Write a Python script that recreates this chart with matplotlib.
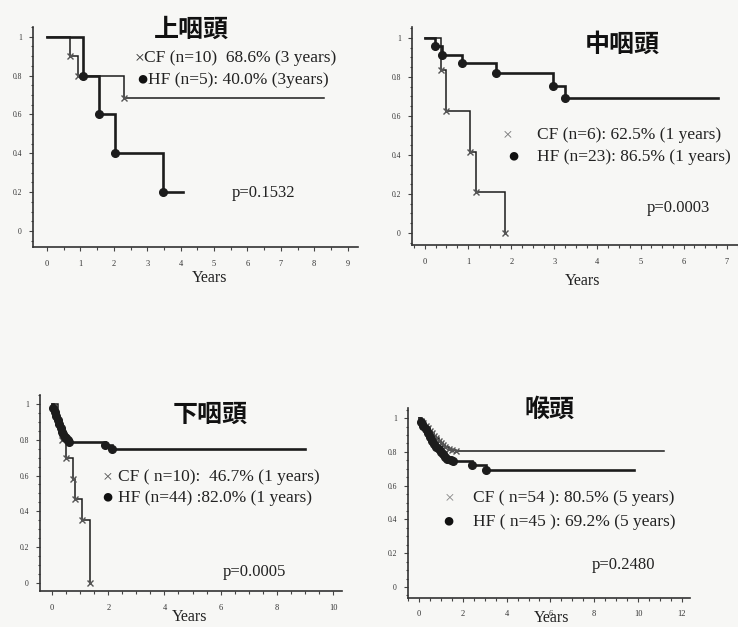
import matplotlib
matplotlib.use("Agg")
import matplotlib.pyplot as plt
from matplotlib.ticker import MultipleLocator

# Kaplan-Meier curves: time in years, survival.
# CF = conventional fractionation, HF = hyperfractionation.

# 上咽頭
naso_cf_t = [0, 0.69, 0.93, 2.3, 8.3]
naso_cf_s = [1, 0.9, 0.8, 0.686, 0.686]
naso_hf_t = [0, 1.08, 1.57, 2.03, 3.48, 4.07]
naso_hf_s = [1, 0.8, 0.6, 0.4, 0.2, 0.2]

# 中咽頭
oro_cf_t = [0, 0.37, 0.49, 1.04, 1.18, 1.86]
oro_cf_s = [1, 0.833, 0.625, 0.417, 0.208, 0]
oro_hf_t = [0, 0.23, 0.39, 0.85, 1.65, 2.96, 3.25, 6.8]
oro_hf_s = [1, 0.957, 0.913, 0.87, 0.82, 0.752, 0.69, 0.69]

# 下咽頭
hypo_cf_t = [0, 0.2, 0.35, 0.5, 0.76, 0.8, 1.06, 1.35]
hypo_cf_s = [1, 0.9, 0.8, 0.7, 0.583, 0.467, 0.35, 0]
hypo_hf_t = [0, 0.05, 0.1, 0.15, 0.2, 0.25, 0.3, 0.35, 0.4, 0.45, 0.5, 0.55,
             0.6, 1.9, 2.15, 9.0]
hypo_hf_s = [1, 0.977, 0.955, 0.932, 0.91, 0.886, 0.864, 0.841, 0.83, 0.818,
             0.81, 0.8, 0.79, 0.77, 0.75, 0.75]

# 喉頭
lar_cf_t = [0, 0.1, 0.2, 0.3, 0.4, 0.5, 0.6, 0.7, 0.8, 0.9, 1.0, 1.1, 1.2,
            1.35, 1.5, 1.7, 11.2]
lar_cf_s = [1, 0.985, 0.97, 0.955, 0.94, 0.925, 0.91, 0.895, 0.88, 0.865,
            0.85, 0.84, 0.83, 0.82, 0.812, 0.805, 0.805]
lar_hf_t = [0, 0.1, 0.2, 0.3, 0.4, 0.5, 0.6, 0.7, 0.8, 0.9, 1.0, 1.1, 1.2,
            1.3, 1.45, 1.55, 2.4, 3.05, 9.8]
lar_hf_s = [1, 0.978, 0.956, 0.933, 0.911, 0.889, 0.867, 0.845, 0.83, 0.815,
            0.8, 0.785, 0.77, 0.76, 0.75, 0.745, 0.72, 0.692, 0.692]

titles = ["上咽頭", "中咽頭", "下咽頭", "喉頭"]
p_values = ["p=0.1532", "p=0.0003", "p=0.0005", "p=0.2480"]
cf_labels = ["CF (n=10)  68.6% (3 years)", "CF (n=6): 62.5% (1 years)",
             "CF ( n=10):  46.7% (1 years)", "CF ( n=54 ): 80.5% (5 years)"]
hf_labels = ["HF (n=5): 40.0% (3years)", "HF (n=23): 86.5% (1 years)",
             "HF (n=44) :82.0% (1 years)", "HF ( n=45 ): 69.2% (5 years)"]
x_max_ticks = [9, 7, 10, 12]
x_steps = [1, 1, 2, 2]

W, H = 738, 627
INK = "#1c1c1c"
SERIF = ["Liberation Serif", "DejaVu Serif"]
CJK = ["Noto Sans CJK JP", "DejaVu Sans"]

fig = plt.figure(figsize=(W / 100, H / 100), dpi=100)
fig.patch.set_facecolor("#f7f7f5")


def px_axes(left, top, right, bottom):
    # Place an axes from pixel edges measured on the scan.
    return fig.add_axes([left / W, 1 - bottom / H, (right - left) / W,
                         (bottom - top) / H])


def px_text(x, y, s, **kw):
    return fig.text(x / W, 1 - y / H, s, **kw)


def km(ax, t, s, lw, marker, ms, mfc, mec):
    ax.step(t, s, where="post", color=INK, lw=lw, solid_joinstyle="miter",
            zorder=2)
    ev = [i for i in range(1, len(t)) if s[i] != s[i - 1]]
    ax.plot([t[i] for i in ev], [s[i] for i in ev], ls="none", marker=marker,
            ms=ms, mfc=mfc, mec=mec, mew=1.0, zorder=3)


# pixel boxes of the four axes: left, top, right, bottom
boxes = [(33, 27, 358, 247), (412, 27, 738, 245),
         (40, 395, 342, 591), (408, 408, 690, 598)]
xlims = [(-0.42, 9.31), (-0.3, 7.26), (-0.43, 10.32), (-0.5, 12.37)]
ylims = [(-0.082, 1.05), (-0.062, 1.056), (-0.045, 1.05), (-0.065, 1.06)]
x_minor = [0.5, 0.25, 0.5, 0.5]

curves = [(naso_cf_t, naso_cf_s, naso_hf_t, naso_hf_s),
          (oro_cf_t, oro_cf_s, oro_hf_t, oro_hf_s),
          (hypo_cf_t, hypo_cf_s, hypo_hf_t, hypo_hf_s),
          (lar_cf_t, lar_cf_s, lar_hf_t, lar_hf_s)]

axes = []
for i, box in enumerate(boxes):
    ax = px_axes(*box)
    ax.set_facecolor("none")
    cf_t, cf_s, hf_t, hf_s = curves[i]
    km(ax, cf_t, cf_s, 1.1, "x", 4, "none", "#555555")
    km(ax, hf_t, hf_s, 1.9, "o", 5.5, INK, INK)

    ax.set_xlim(*xlims[i])
    ax.set_ylim(*ylims[i])
    xt = list(range(0, x_max_ticks[i] + 1, x_steps[i]))
    ax.set_xticks(xt, labels=[str(v) for v in xt])
    ax.set_yticks([0, 0.2, 0.4, 0.6, 0.8, 1],
                  labels=["0", "0.2", "0.4", "0.6", "0.8", "1"])
    ax.xaxis.set_minor_locator(MultipleLocator(x_minor[i]))
    ax.yaxis.set_minor_locator(MultipleLocator(0.05))
    ax.tick_params(which="both", direction="out", color="#444444",
                   labelcolor="#333333", width=0.8)
    ax.tick_params(which="major", length=3)
    ax.tick_params(which="minor", length=1.8)
    ax.tick_params(axis="y", labelsize=5.5, pad=5)
    ax.tick_params(axis="x", labelsize=6, pad=6)
    for lab in ax.get_xticklabels() + ax.get_yticklabels():
        lab.set_family(SERIF)
    for side in ("top", "right"):
        ax.spines[side].set_visible(False)
    for side in ("left", "bottom"):
        ax.spines[side].set_color("#333333")
        ax.spines[side].set_linewidth(1.2)
    axes.append(ax)

# titles
title_pos = [(191, 30), (622, 45), (210, 415), (550, 410)]
for (x, y), s in zip(title_pos, titles):
    px_text(x, y, s, family=CJK, fontsize=18, fontweight="bold",
            ha="center", va="center", color="#111111")

# legends drawn as text, the marker glyph set apart from the label
leg_fs = 12.5
cf_mark = [(140, 58), (508, 135), (107, 477), (450, 498)]
hf_mark = [(142, 80), (513, 157), (107, 498), (448, 522)]
cf_text = [(144, 58), (537, 135), (118, 477), (473, 498)]
hf_text = [(148, 80), (537, 157), (118, 498), (473, 522)]
cf_mark_col = ["#333333", "#777777", "#555555", "#888888"]
for i in range(4):
    px_text(*cf_mark[i], "×", family=SERIF, fontsize=leg_fs, ha="center",
            va="center", color=cf_mark_col[i])
    px_text(*hf_mark[i], "●", family=SERIF, fontsize=leg_fs + 2,
            ha="center", va="center", color="#111111")
    px_text(*cf_text[i], cf_labels[i], family=SERIF, fontsize=leg_fs,
            va="center", color="#222222")
    px_text(*hf_text[i], hf_labels[i], family=SERIF, fontsize=leg_fs,
            va="center", color="#222222")

# p values and axis labels
p_pos = [(232, 193), (647, 208), (223, 572), (592, 565)]
for (x, y), s in zip(p_pos, p_values):
    px_text(x, y, s, family=SERIF, fontsize=12, va="center", color="#222222")

# the bottom row labels sit low, touching the tick labels as on the scan
years_pos = [(210, 278), (583, 281), (190, 617), (552, 618)]
for x, y in years_pos:
    px_text(x, y, "Years", family=SERIF, fontsize=11.5, ha="center",
            va="center", color="#222222")

fig.savefig("out.png", dpi=100, facecolor=fig.get_facecolor())
